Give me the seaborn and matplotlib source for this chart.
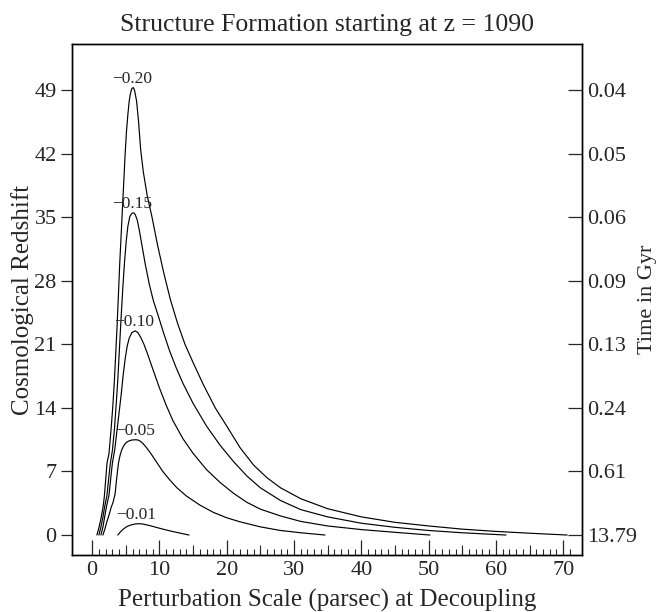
import numpy as np
import pandas as pd
import matplotlib
matplotlib.use("Agg")
import matplotlib.pyplot as plt
import seaborn as sns

sns.set_style("ticks")
plt.rcParams["font.family"] = ["Liberation Serif", "DejaVu Serif"]

# ---- data ----
labels = ["\u22120.20", "\u22120.15", "\u22120.10", "\u22120.05", "\u22120.01"]

x_020 = [0.7, 1.0, 1.3, 1.6, 1.8, 2.0, 2.2, 2.5, 2.8, 3.05, 3.3, 3.5, 3.7, 3.9, 4.1,
         4.3, 4.5, 4.7, 4.9, 5.1, 5.3, 5.5, 5.7, 5.9, 6.1,
         6.3, 6.6, 6.9, 7.2, 7.6, 8.2, 8.9, 9.7, 10.6, 11.6, 12.7, 13.8, 15, 16.5,
         18.3, 20, 22, 24, 26, 28, 31, 35, 40, 45, 50, 55, 60, 65, 70.6]
z_020 = [0.0, 0.8, 1.8, 3.0, 4.2, 6.0, 7.9, 9.0, 11.6, 14, 17, 20, 23, 26.5, 30,
         33, 36, 39, 42, 44.5, 46.3, 47.8, 48.7, 49.2, 49.3,
         49.0, 47.8, 45.5, 42.5, 40.0, 37.3, 35.0, 32.0, 29.0, 26.0, 23.3, 21.0, 19.0,
         16.6, 14.0, 12.0, 9.6, 7.7, 6.3, 5.2, 4.0, 2.9, 2.0, 1.4, 1.0, 0.65, 0.4,
         0.2, 0.0]

x_015 = [1.0, 1.3, 1.6, 1.9, 2.2, 2.45, 2.7, 3.0, 3.3, 3.55, 3.8, 4.05, 4.3, 4.55,
         4.8, 5.05, 5.3, 5.6, 5.9, 6.2,
         6.4, 6.7, 7.0, 7.4, 7.9, 8.5, 9.1, 9.8, 10.6, 11.5, 12.5, 13.5, 15, 17, 19,
         21, 23, 25, 28, 31, 35, 40, 45, 50, 55, 61.5]
z_015 = [0.0, 0.9, 2.0, 3.3, 4.4, 6.2, 7.9, 9.3, 11.6, 14.2, 17, 20.5, 24, 27.2,
         30, 32.3, 34, 35.1, 35.45, 35.5,
         35.3, 34.7, 33.6, 31.9, 29.8, 27.6, 25.8, 24.2, 22.3, 20.3, 18.4, 16.7, 14.5,
         12.0, 9.9, 8.1, 6.5, 5.2, 3.8, 2.8, 2.0, 1.3, 0.85, 0.5, 0.25, 0.0]

x_010 = [1.3, 1.6, 1.9, 2.2, 2.5, 2.75, 3.0, 3.35, 3.7, 4.0, 4.3, 4.6, 4.9, 5.2,
         5.5, 5.9, 6.4,
         6.8, 7.2, 7.7, 8.3, 9.0, 10, 11, 12, 13.5, 15, 17, 19, 21, 23, 25, 28, 31,
         35, 40, 45, 50.2]
z_010 = [0.0, 0.9, 2.2, 3.4, 4.4, 6.2, 7.9, 9.4, 11.6, 13.5, 15.4, 17.6, 19.4, 20.8,
         21.7, 22.3, 22.5,
         22.3, 21.8, 21.0, 19.8, 18.3, 16.2, 14.3, 12.6, 10.6, 9.0, 7.2, 5.8, 4.6,
         3.6, 2.85, 2.1, 1.5, 1.0, 0.6, 0.3, 0.0]

x_005 = [1.6, 1.9, 2.2, 2.5, 2.8, 3.1, 3.4, 3.65, 3.9, 4.15, 4.4, 4.7, 5.0, 5.4,
         5.9, 6.5,
         6.9, 7.4, 8.0, 8.7, 9.6, 10.5, 11.5, 12.6, 14, 16, 18, 20, 22, 25, 28, 31,
         34.6]
z_005 = [0.0, 0.7, 1.5, 2.2, 3.0, 3.6, 4.5, 6.3, 7.9, 8.8, 9.4, 9.85, 10.15, 10.35,
         10.47, 10.5,
         10.45, 10.2, 9.7, 9.0, 8.0, 7.0, 6.1, 5.2, 4.3, 3.3, 2.5, 1.9, 1.45, 0.9,
         0.5, 0.25, 0.0]

x_001 = [3.8, 4.2, 4.7, 5.2, 5.8, 6.4, 7.0, 7.6, 8.5, 9.5, 10.5, 11.5, 12.5, 13.5,
         14.4]
z_001 = [0.0, 0.35, 0.7, 0.95, 1.12, 1.22, 1.25, 1.2, 1.05, 0.85, 0.65, 0.47, 0.3,
         0.14, 0.0]

peak_x = [6.1, 6.2, 6.4, 6.5, 6.8]
peak_z = [49.3, 35.5, 22.5, 10.5, 1.25]

z_ticks = [0, 7, 14, 21, 28, 35, 42, 49]
time_labels = ["13.79", "0.61", "0.24", "0.13", "0.09", "0.06", "0.05", "0.04"]
x_ticks = [0, 10, 20, 30, 40, 50, 60, 70]
x_mid_ticks = [5, 15, 25, 35, 45, 55, 65]

# ---- build long table ----
frames = []
for lab, xs, zs in zip(labels, [x_020, x_015, x_010, x_005, x_001],
                       [z_020, z_015, z_010, z_005, z_001]):
    frames.append(pd.DataFrame({"x": xs, "z": zs, "curve": lab}))
df = pd.concat(frames, ignore_index=True)

fig = plt.figure(figsize=(6.61, 6.12), dpi=100)
ax = fig.add_axes([72 / 661, 1 - 555 / 612, (582 - 72) / 661, (555 - 44) / 612])

sns.lineplot(data=df, x="x", y="z", units="curve", estimator=None, sort=False,
             color="black", linewidth=0.85, ax=ax, legend=False)

for lab, px, pz in zip(labels, peak_x, peak_z):
    ax.text(px - 0.2, pz + 0.1, lab, ha="center", va="bottom", fontsize=12.5)

ax.set_xlim(-3.0, 72.8)
ax.set_ylim(-2.2, 54.1)

ax.set_xticks(x_ticks)
ax.set_xticks(np.arange(0, 72, 1), minor=True)
ax.set_yticks(z_ticks)
ax.set_yticklabels([str(t) for t in z_ticks])
ax.tick_params(axis="x", direction="in", length=11, width=0.9, labelsize=16, pad=4)
ax.tick_params(axis="x", which="minor", direction="in", length=4, width=0.8)
ax.tick_params(axis="y", direction="out", length=8, width=0.9, labelsize=16, pad=3)
ax.tick_params(axis="y", which="minor", left=False)

sec = ax.secondary_xaxis("bottom")
sec.set_xticks(x_mid_ticks)
sec.tick_params(direction="in", length=7, width=0.8, labelbottom=False)
sec.spines["bottom"].set_visible(False)

ax2 = ax.twinx()
ax2.set_ylim(ax.get_ylim())
ax2.set_yticks(z_ticks)
ax2.set_yticklabels(time_labels)
ax2.tick_params(axis="y", direction="in", length=10, width=0.9, labelsize=16, pad=4)

for a in (ax, ax2):
    for s in a.spines.values():
        s.set_visible(True)
        s.set_linewidth(1.0)
        s.set_color("black")

ax.set_xlabel("Perturbation Scale (parsec) at Decoupling", fontsize=18, va="center")
ax.xaxis.set_label_coords(0.5, -0.088)
ax.set_ylabel("Cosmological Redshift", fontsize=18, va="center")
ax.yaxis.set_label_coords(-0.098, 0.5)
ax2.set_ylabel("Time in Gyr", fontsize=16, va="center", rotation=90)
ax2.yaxis.set_label_coords(1.129, 0.5)
ax.set_title("Structure Formation starting at z = 1090", fontsize=18.5, pad=9)

fig.savefig("out.png", dpi=100)
